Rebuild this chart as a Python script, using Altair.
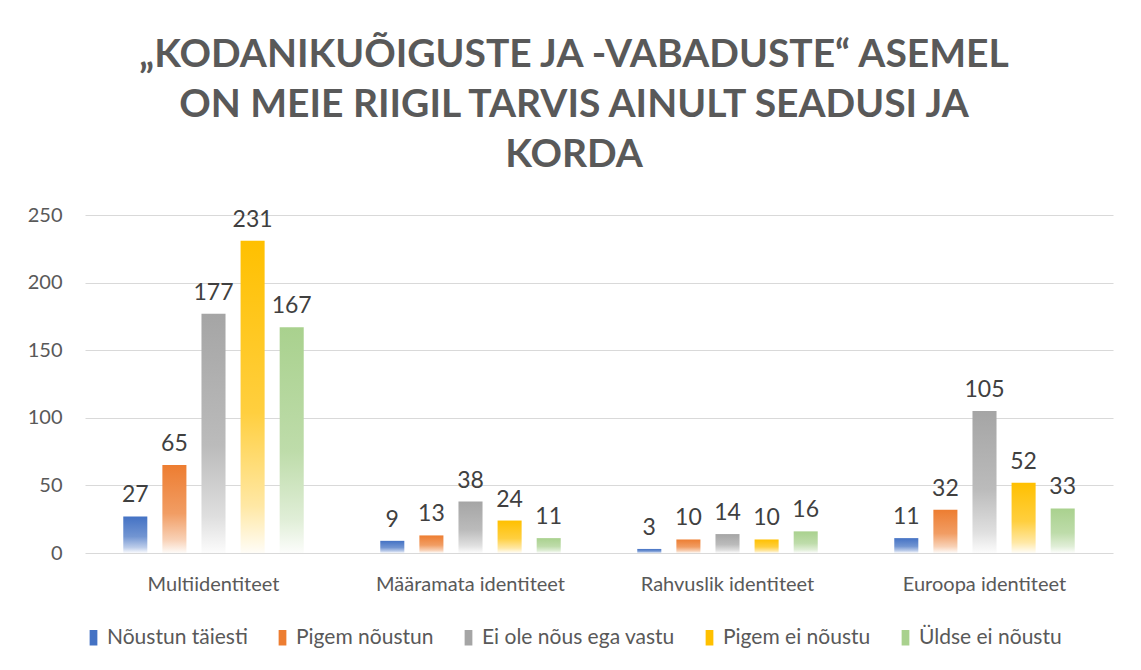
import altair as alt
import pandas as pd

categories = ["Multiidentiteet", "Määramata identiteet", "Rahvuslik identiteet", "Euroopa identiteet"]
series = ["Nõustun täiesti", "Pigem nõustun", "Ei ole nõus ega vastu", "Pigem ei nõustu", "Üldse ei nõustu"]
values = {
    "Nõustun täiesti": [27, 9, 3, 11],
    "Pigem nõustun": [65, 13, 10, 32],
    "Ei ole nõus ega vastu": [177, 38, 14, 105],
    "Pigem ei nõustu": [231, 24, 10, 52],
    "Üldse ei nõustu": [167, 11, 16, 33],
}
colors = ["#4472C4", "#ED7D31", "#A5A5A5", "#FFC000", "#A9D18E"]
title_lines = ["„KODANIKUÕIGUSTE JA -VABADUSTE“ ASEMEL", "ON MEIE RIIGIL TARVIS AINULT SEADUSI JA", "KORDA"]
y_ticks = [0, 50, 100, 150, 200, 250]

rows = []
for s in series:
    for c, v in zip(categories, values[s]):
        rows.append({"category": c, "series": s, "value": v})
df = pd.DataFrame(rows)


def tint(hexcol, t):
    h = hexcol.lstrip("#")
    r, g, b = int(h[0:2], 16), int(h[2:4], 16), int(h[4:6], 16)
    r = int(r + (255 - r) * t)
    g = int(g + (255 - g) * t)
    b = int(b + (255 - b) * t)
    return "#%02x%02x%02x" % (r, g, b)


def gradient(c):
    return {
        "gradient": "linear",
        "x1": 0, "y1": 0, "x2": 0, "y2": 1,
        "stops": [
            {"offset": 0, "color": c},
            {"offset": 0.55, "color": tint(c, 0.25)},
            {"offset": 0.85, "color": tint(c, 0.65)},
            {"offset": 1, "color": tint(c, 0.97)},
        ],
    }


FONT = "Lato"
x_enc = alt.X("category:N", sort=categories, title=None,
              scale=alt.Scale(paddingInner=0.24, paddingOuter=0.12),
              axis=alt.Axis(labelAngle=0, labelFont=FONT, labelFontSize=20, labelColor="#595959",
                            labelPadding=21, labelLimit=0, ticks=False, domain=False, grid=False))
xo_enc = alt.XOffset("series:N", sort=series,
                     scale=alt.Scale(domain=series, paddingInner=0.385, paddingOuter=0.19))
y_enc = alt.Y("value:Q", title=None,
              scale=alt.Scale(domain=[0, 250], nice=False),
              axis=alt.Axis(values=y_ticks, labelFont=FONT, labelFontSize=20, labelColor="#595959",
                            labelPadding=23, ticks=False, domain=False, gridColor="#d9d9d9",
                            gridWidth=1.2))

base = alt.Chart(df)

legend_layer = base.mark_bar(opacity=0).encode(
    x=x_enc, xOffset=xo_enc, y=y_enc,
    color=alt.Color("series:N", sort=series,
                    scale=alt.Scale(domain=series, range=colors),
                    legend=alt.Legend(title=None, orient="none", direction="horizontal",
                                      legendX=-2, legendY=412,
                                      symbolType="M-0.5,-1L0.5,-1L0.5,1L-0.5,1Z",
                                      symbolSize=240, symbolOpacity=1, symbolStrokeWidth=0,
                                      labelFont=FONT, labelFontSize=21, labelColor="#595959",
                                      labelLimit=0, labelOffset=3, columnPadding=24)),
)

layers = [legend_layer]
for s, c in zip(series, colors):
    layers.append(
        base.transform_filter(alt.FieldEqualPredicate(field="series", equal=s))
        .mark_bar(color=gradient(c))
        .encode(x=x_enc, xOffset=xo_enc, y=y_enc)
    )

labels = base.mark_text(font=FONT, fontSize=23, color="#404040", baseline="alphabetic", dy=-14).encode(
    x=x_enc, xOffset=xo_enc, y=y_enc, text="value:Q"
)
layers.append(labels)

chart = alt.layer(*layers).properties(
    width=1028, height=338,
    autosize=alt.AutoSizeParams(type="none"),
    padding={"left": 77, "top": 207, "right": 20, "bottom": 109},
    title=alt.TitleParams(text=title_lines, font=FONT, fontSize=39, fontWeight="bold",
                          color="#595959", anchor="middle", dx=-25, lineHeight=50, offset=30),
).configure(background="white", view=alt.ViewConfig(stroke=None))

chart.save("out.html", embed_options={"renderer": "svg", "actions": False})
